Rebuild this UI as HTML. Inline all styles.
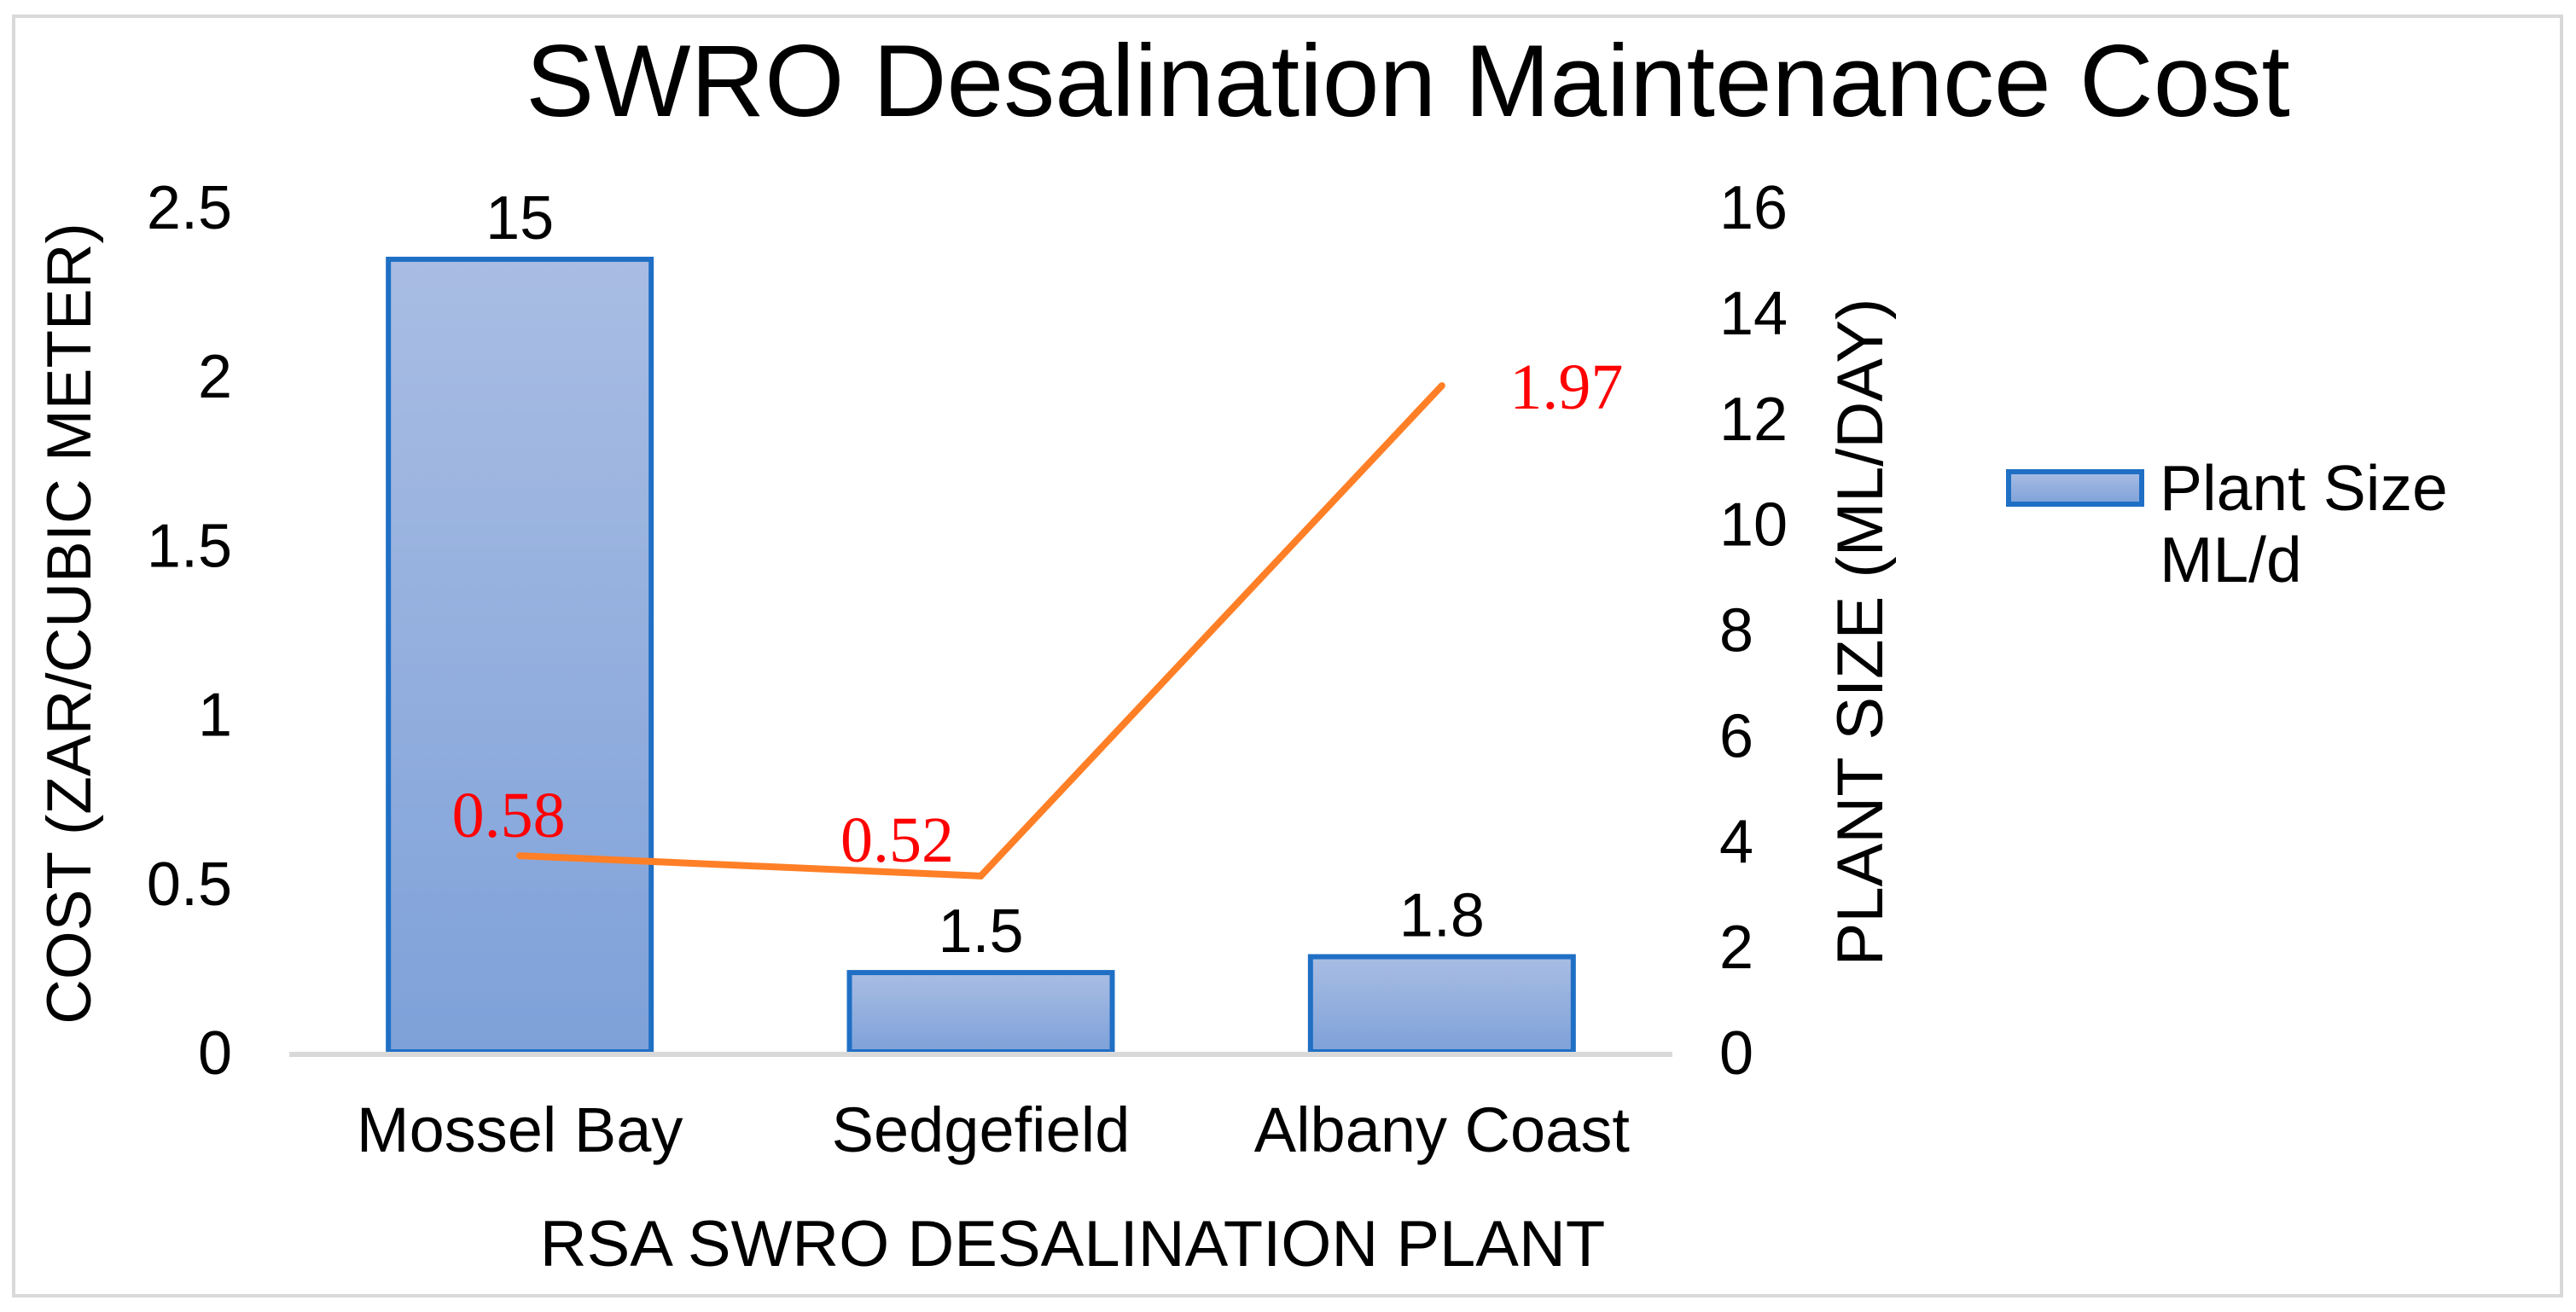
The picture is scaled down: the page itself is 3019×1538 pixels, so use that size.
<!DOCTYPE html>
<html><head><meta charset="utf-8"><style>
html,body{margin:0;padding:0;background:#fff;}
svg{display:block;font-family:"Liberation Sans",Arial,sans-serif;}
</style></head><body>
<svg id="chart" width="3019" height="1538" viewBox="0 0 3019 1538">
<defs><linearGradient id="barGrad" x1="0" y1="0" x2="0" y2="1"><stop offset="0" stop-color="#a9bde3"/><stop offset="1" stop-color="#7ea1d9"/></linearGradient></defs>
<rect x="16" y="19" width="2986" height="1500" fill="#fff" stroke="#d9d9d9" stroke-width="4"/>
<text x="1650" y="136" font-size="120" text-anchor="middle">SWRO Desalination Maintenance Cost</text>
<g id="bars"></g><g id="line"></g><g id="labels"></g><g id="ticks"></g>
<text transform="translate(106,731) rotate(-90)" font-size="73" text-anchor="middle">COST (ZAR/CUBIC METER)</text>
<text transform="translate(2206,741) rotate(-90)" font-size="76" text-anchor="middle">PLANT SIZE (ML/DAY)</text>
<text x="1257" y="1484" font-size="76" text-anchor="middle">RSA SWRO DESALINATION PLANT</text>
<rect x="2354" y="553" width="156" height="38" fill="url(#barGrad)" stroke="#1f6fc5" stroke-width="6"/>
<text x="2531" y="598" font-size="75">Plant Size</text>
<text x="2531" y="682" font-size="75">ML/d</text>
</svg>
<script>
const categories=["Mossel Bay","Sedgefield","Albany Coast"];
const plantSize=[15,1.5,1.8];
const cost=[0.58,0.52,1.97];
const leftTicks=[0,0.5,1,1.5,2,2.5];
const rightTicks=[0,2,4,6,8,10,12,14,16];
const y0=1233,yTop=242,x0=339,x1=1960;
const bw=(x1-x0)/categories.length;
const yL=v=>y0-v/2.5*(y0-yTop);
const yR=v=>y0-v/16*(y0-yTop);
const xC=i=>x0+bw*(i+0.5);
const NS="http://www.w3.org/2000/svg";
function mk(tag,attrs,parent,txt){const e=document.createElementNS(NS,tag);for(const k in attrs)e.setAttribute(k,attrs[k]);if(txt!==undefined)e.textContent=txt;document.getElementById(parent).appendChild(e);return e;}
plantSize.forEach((v,i)=>{
 const r=mk('rect',{x:xC(i)-154,y:yR(v),width:308,height:y0-yR(v),fill:'url(#barGrad)',stroke:'#1f6fc5','stroke-width':6},'bars');
 
 
 const t=mk('text',{x:xC(i),y:yR(v)-24,'font-size':72,'text-anchor':'middle'},'labels',String(v));
 
 
});
const ax=mk('line',{x1:x0,y1:y0+3,x2:x1,y2:y0+3,stroke:'#d9d9d9','stroke-width':6},'bars');


const pl=mk('polyline',{points:cost.map((v,i)=>xC(i)+','+yL(v)).join(' '),fill:'none',stroke:'#ff7f27','stroke-width':8,'stroke-linejoin':'miter','stroke-linecap':'round'},'line');


cost.forEach((v,i)=>{
 const dx=i==2?146:(i==1?-98:-13);const dy=i==2?27:(i==1?-17:-22);
 const t=mk('text',{x:xC(i)+dx,y:yL(v)+dy,'font-size':76,'text-anchor':'middle',fill:'#ff0000','font-family':'Liberation Serif, serif'},'labels',v.toFixed(2));
 
 
});
categories.forEach((c,i)=>{
 const t=mk('text',{x:xC(i),y:1350,'font-size':74,'text-anchor':'middle'},'labels',c);
 
 
});
leftTicks.forEach(v=>{
 const t=mk('text',{x:272,y:yL(v)+26,'font-size':72,'text-anchor':'end'},'ticks',String(v));
 
 
});
rightTicks.forEach(v=>{
 const t=mk('text',{x:2015,y:yR(v)+26,'font-size':72,'text-anchor':'start'},'ticks',String(v));
 
 
});
</script>
</body></html>
